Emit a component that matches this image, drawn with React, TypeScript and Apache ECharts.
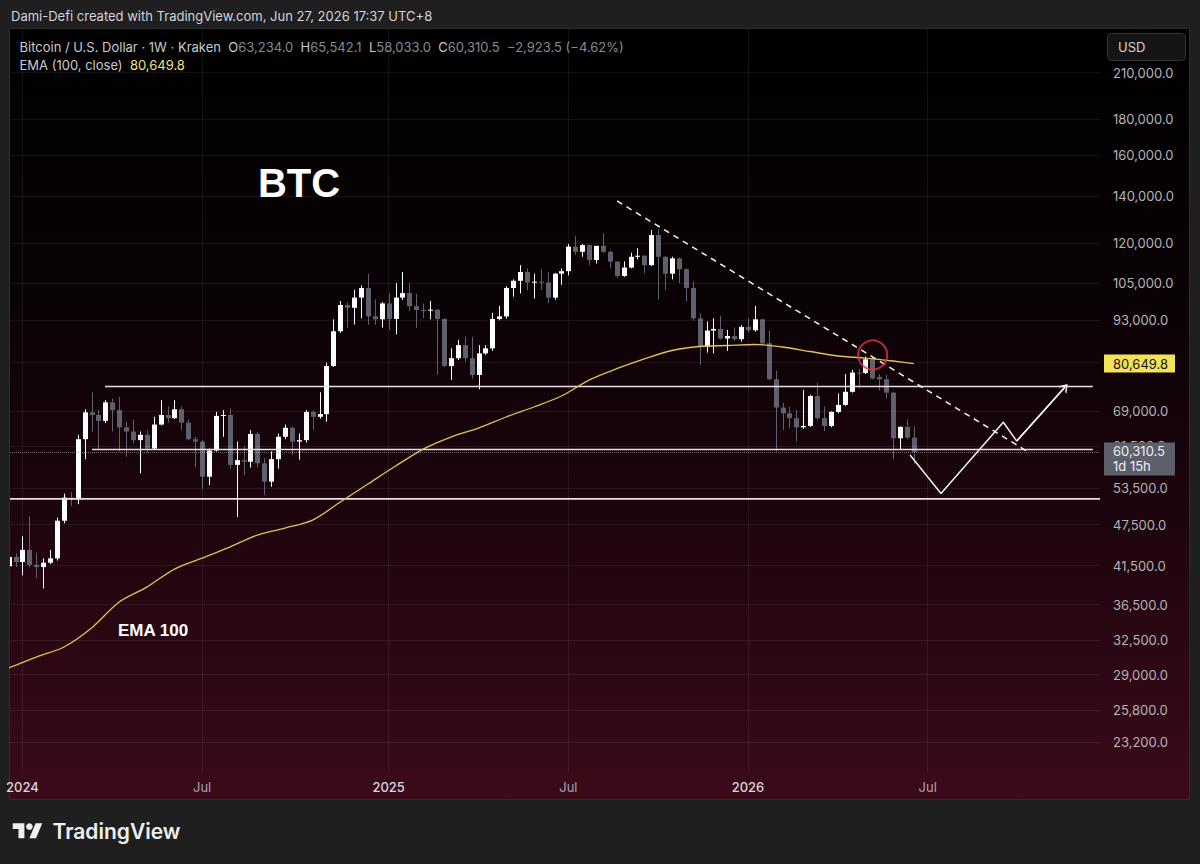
import React, { useEffect, useRef } from "react";
import * as echarts from "echarts";

// Weekly bars: week 0 = Mon 2023-12-18
const START = Date.UTC(2023, 11, 18);
const WEEK = 7 * 24 * 3600 * 1000;
const wt = (w: number) => START + w * WEEK;

const opens = [41400,42700,42000,43700,41600,41300,41900,42500,48100,51900,
51600,62900,68700,68100,66800,71000,69200,65400,64500,62700,
63800,61000,66000,68100,67400,69400,66400,62900,62400,55600,
60600,67900,68100,57800,58700,58400,64000,58100,54700,58900,
63400,65300,62400,62700,68800,67700,68300,80000,89700,97800,
96900,100200,103400,94200,93300,98300,93400,100200,101700,97400,
96200,96000,96300,93400,80000,82100,85700,82100,77700,83400,
84800,93400,94200,103400,105900,109000,105300,105600,105300,100200,
108400,109300,118500,116500,119100,113400,118800,116500,112800,107600,
110600,114600,115000,111500,123100,114600,108400,114000,110000,103400,
93600,85300,89900,90400,87600,88300,87400,91000,90000,93300,
86200,76600,69800,68500,67400,65400,65700,72500,67400,65700,
68800,70400,73500,78300,78200,81800,77200,76600,73300,63100,
65500,63234.0];

const highs = [43400,43200,45700,48800,43300,42500,43700,48600,52600,52800,
63800,69400,73400,69200,71500,71900,72300,66600,67100,64500,
64800,67700,71500,70100,71500,70000,67100,63400,62700,61000,
68800,69200,69600,62400,61400,64800,64400,59100,60400,64100,
66000,65600,64100,69200,69200,73400,80900,93300,99100,98700,
102800,104300,108400,99600,98700,101700,105100,109000,105100,101500,
98300,99100,96500,93600,84800,87200,88100,88100,85700,85700,
95300,97500,104000,106400,111500,110300,108400,110000,109000,108600,
110300,119500,122700,119500,119300,118800,123800,117000,113000,112900,
116100,117900,115200,125100,125400,114800,114600,114300,110300,105500,
95100,92600,93600,94300,90100,90800,91500,93600,97500,93500,
89900,78800,70900,70000,69200,73900,72800,75700,70000,68900,
73100,77900,79000,79200,82500,82500,77900,77700,73500,65600,
67100,65542.1];

const lows = [40600,41300,40200,41300,39800,38500,41700,42200,47700,50500,
50800,58900,64500,60700,66300,64500,60400,59400,62000,56200,
60200,60700,65800,66400,67200,64800,62700,57400,53500,54100,
60400,63400,57100,48700,55900,57300,57300,52300,53800,57100,
62900,59700,58800,62200,64800,67300,66600,79800,89200,90700,
91700,93600,91600,91600,90800,90000,88800,99400,95900,90700,
93600,93300,77700,79800,76400,81600,81200,76800,74100,83000,
84100,93000,93500,100500,101600,102700,99900,102700,98400,99500,
104500,107800,115300,114600,111500,112100,116100,110300,106800,107300,
110300,113700,108400,111200,99600,102800,106400,105100,99000,92900,
80300,83600,83400,87300,84100,86900,86700,89300,89600,85700,
76400,60400,64800,65200,62400,65100,65500,67100,64600,65400,
68500,70200,73300,74400,77900,76600,73900,71900,58900,60700,
62900,58033.0];

const closes = [42700,42000,43700,41600,41300,41900,42500,48100,51900,51600,
62900,68700,68100,66800,71000,69200,65400,64500,62700,63800,
61000,66000,68100,67400,69400,66400,62900,62400,55600,60600,
67900,68100,57800,58700,58400,64000,58100,54700,58900,63400,
65300,62400,62700,68800,67700,68300,80000,89700,97800,96900,
100200,103400,94200,93300,98300,93400,100200,101700,97400,96200,
96000,96300,93400,80000,82100,85700,82100,77700,83400,84800,
93400,94200,103400,105900,109000,105300,105600,105300,100200,108400,
109300,118500,116500,119100,113400,118800,116500,112800,107600,110600,
114600,115000,111500,123100,114600,108400,114000,110000,103400,93600,
85300,89900,90400,87600,88300,87400,91000,90000,93300,86200,
76600,69800,68500,67400,65400,65700,72500,67400,65700,68800,
70400,73500,78300,78200,81800,76800,76600,73300,63100,65500,
63234.0,60310.5];

// EMA(100) read at sampled weeks
const emaWeeks = [0,4,8,12,16,20,24,28,32,36,40,44,48,52,56,60,64,68,72,76,80,84,88,92,96,100,104,108,112,116,120,124,128,131];
const emaValues = [29630,30720,31750,33800,36810,38670,41030,42540,44110,45890,46960,48210,51150,54270,57580,60890,63340,65250,67660,69920,72490,76400,79300,81900,84200,85310,85590,85880,85170,83920,82690,82140,81340,80649.8];

const priceTicks = [210000,180000,160000,140000,120000,105000,93000,69000,61500,53500,47500,41500,36500,32500,29000,25800,23200];
const gridPrices = [210000,180000,160000,140000,120000,105000,93000,81000,69000,61500,53500,47500,41500,36500,32500,29000,25800,23200];
const timeTicks = ["2024-01-01","2024-07-01","2025-01-06","2025-07-07","2026-01-05","2026-07-06"];

// drawings (week index, price)
const levelPrices = [74800, 60800, 51700];
const levelStartWeeks = [13.95, 12.07, 0.2];
const levelEndWeeks = [156.9, 156.9, 157.94];
const trendWeeks = [88.05, 147.8];
const trendPrices = [137700, 60100];
const pathWeeks = [130.45, 134.93, 143.95, 145.89, 152.88];
const pathPrices = [59700, 52600, 66500, 62500, 74700];
const circleWeek = 125.05;
const circlePrice = 82960;

const X_MIN_WEEK = 0.2;
const X_MAX_WEEK = 157.94;
const Y_MIN = 21050;
const Y_MAX = 243200;

const fmt = (v: number) =>
  v.toLocaleString("en-US", { minimumFractionDigits: 1, maximumFractionDigits: 1 });

const FONT = "Inter, 'Noto Sans', sans-serif";

function buildOption(): any {
  const n = closes.length;
  const last = closes[n - 1];
  const prev = closes[n - 2];
  const chg = last - prev;
  const pct = (chg / prev) * 100;
  const minus = (s: string) => s.replace("-", "\u2212");
  const emaLast = emaValues[emaValues.length - 1];

  const candleData = opens.map((o, i) => [wt(i), o, closes[i], lows[i], highs[i]]);

  const levelSeries = levelPrices.map((p, k) => ({
    type: "line",
    name: "level" + k,
    data: [[wt(levelStartWeeks[k]), p], [wt(levelEndWeeks[k]), p]],
    symbol: "none",
    silent: true,
    z: 4,
    lineStyle: { color: "#e6e0e3", width: 1.7 },
  }));

  const legendText =
    "{t|Bitcoin / U.S. Dollar · 1W · Kraken}  " +
    "{t|O}{v|" + fmt(opens[n - 1]) + "}  " +
    "{t|H}{v|" + fmt(highs[n - 1]) + "}  " +
    "{t|L}{v|" + fmt(lows[n - 1]) + "}  " +
    "{t|C}{v|" + fmt(last) + "}  " +
    "{v|" + minus(fmt(chg)) + " (" + minus(pct.toFixed(2)) + "%)}";

  const gradient = {
    type: "linear", x: 0, y: 0, x2: 0, y2: 1,
    colorStops: [
      { offset: 0, color: "#000000" },
      { offset: 0.35, color: "#0a0205" },
      { offset: 0.7, color: "#22060f" },
      { offset: 1, color: "#3c0a1a" },
    ],
  };

  const logo = "#efefef";

  return {
    animation: false,
    backgroundColor: "#1f1f1f",
    grid: { left: 10, right: 100, top: 28, bottom: 92, containLabel: false, outerBoundsMode: "none" },
    xAxis: {
      type: "value",
      min: wt(X_MIN_WEEK),
      max: wt(X_MAX_WEEK),
      axisLine: { show: false },
      axisTick: { show: false },
      splitLine: { show: false },
      axisLabel: {
        customValues: timeTicks.map((d) => Date.parse(d)),
        margin: 8,
        hideOverlap: false,
        formatter: (v: number) => {
          const d = new Date(v);
          return d.getUTCMonth() === 0 ? "{y|" + d.getUTCFullYear() + "}" : "{m|Jul}";
        },
        rich: {
          y: { color: "#d6d8de", fontSize: 13, fontFamily: FONT, fontWeight: 500 },
          m: { color: "#a3a6af", fontSize: 13, fontFamily: FONT },
        },
      },
    },
    yAxis: {
      type: "log",
      position: "right",
      min: Y_MIN,
      max: Y_MAX,
      axisLine: { show: false },
      axisTick: { show: false },
      splitLine: { show: false },
      axisLabel: {
        customValues: priceTicks,
        formatter: (v: number) => fmt(v),
        align: "left",
        margin: 13,
        color: "#b6b4ba",
        fontSize: 13,
        fontFamily: FONT,
        hideOverlap: false,
      },
    },
    graphic: {
      elements: [
        {
          type: "rect", z: -10, silent: true,
          shape: { x: 9.5, y: 28.5, width: 1180, height: 771 },
          style: { fill: gradient, stroke: "#2e2c2e", lineWidth: 1 },
        },
        {
          type: "text", x: 11, y: 16, silent: true,
          style: { text: "Dami-Defi created with TradingView.com, Jun 27, 2026 17:37 UTC+8", fill: "#d1d4dc", fontSize: 13, fontFamily: FONT, verticalAlign: "middle" },
        },
        {
          type: "text", x: 19.5, y: 46.5, silent: true, z: 20,
          style: {
            text: legendText, verticalAlign: "middle", fontSize: 13, fontFamily: FONT,
            rich: {
              t: { fill: "#c8cad0", fontSize: 13, fontFamily: FONT },
              v: { fill: "#878a93", fontSize: 13, fontFamily: FONT },
            },
          },
        },
        {
          type: "text", x: 19.5, y: 64.5, silent: true, z: 20,
          style: {
            text: "{t|EMA (100, close)}  {y|" + fmt(emaLast) + "}", verticalAlign: "middle", fontSize: 13, fontFamily: FONT,
            rich: {
              t: { fill: "#c8cad0", fontSize: 13, fontFamily: FONT },
              y: { fill: "#f0e27a", fontSize: 13, fontFamily: FONT },
            },
          },
        },
        {
          type: "text", x: 299, y: 183, silent: true, z: 20,
          style: { text: "BTC", fill: "#ffffff", fontSize: 40, fontWeight: "bold", fontFamily: "'Liberation Sans', Arial, sans-serif", align: "center", verticalAlign: "middle" },
        },
        {
          type: "text", x: 153, y: 630, silent: true, z: 20,
          style: { text: "EMA 100", fill: "#ffffff", fontSize: 17, fontWeight: "bold", fontFamily: "'Liberation Sans', Arial, sans-serif", align: "center", verticalAlign: "middle" },
        },
        {
          type: "rect", silent: true, z: 20,
          shape: { x: 1107.5, y: 33.5, width: 78, height: 27, r: 4 },
          style: { fill: "#141414", stroke: "#343436", lineWidth: 1 },
        },
        {
          type: "text", x: 1118, y: 47, silent: true, z: 21,
          style: { text: "USD", fill: "#d1d4dc", fontSize: 13, fontFamily: FONT, verticalAlign: "middle" },
        },
        {
          type: "polygon", silent: true,
          shape: { points: [[12.7, 823.3], [24.4, 823.3], [24.4, 838.3], [18.5, 838.3], [18.5, 829.1], [12.7, 829.1]] },
          style: { fill: logo },
        },
        {
          type: "circle", silent: true,
          shape: { cx: 29.4, cy: 826.6, r: 3.33 },
          style: { fill: logo },
        },
        {
          type: "polygon", silent: true,
          shape: { points: [[29.4, 838.3], [36, 838.3], [42.3, 823.3], [35.6, 823.3]] },
          style: { fill: logo },
        },
        {
          type: "text", x: 52.5, y: 831, silent: true,
          style: { text: "TradingView", fill: logo, fontSize: 21, fontWeight: 600, fontFamily: FONT, verticalAlign: "middle" },
        },
      ],
    },
    series: [
      {
        type: "line",
        name: "grid",
        data: [[wt(X_MIN_WEEK), 100000]],
        symbol: "none",
        silent: true,
        z: 1,
        lineStyle: { opacity: 0 },
        markLine: {
          silent: true,
          symbol: ["none", "none"],
          label: { show: false },
          emphasis: { disabled: true },
          lineStyle: { color: "rgba(255,255,255,0.07)", width: 1, type: "solid" },
          data: [
            ...gridPrices.map((p) => ({ yAxis: p })),
            ...timeTicks.map((d) => ({ xAxis: Date.parse(d) })),
          ],
        },
      },
      {
        type: "custom",
        name: "BTCUSD",
        data: candleData,
        encode: { x: 0, y: [1, 2, 3, 4] },
        clip: true,
        z: 3,
        silent: true,
        renderItem: (params: any, api: any) => {
          const t = api.value(0);
          const o = api.value(1);
          const c = api.value(2);
          const l = api.value(3);
          const h = api.value(4);
          const po = api.coord([t, o]);
          const pc = api.coord([t, c]);
          const pl = api.coord([t, l]);
          const ph = api.coord([t, h]);
          const up = c >= o;
          const col = up ? "#ffffff" : "#5e616c";
          const x = Math.round(po[0]);
          const top = Math.min(po[1], pc[1]);
          const bh = Math.max(1, Math.abs(po[1] - pc[1]));
          return {
            type: "group",
            children: [
              { type: "line", shape: { x1: x + 0.5, y1: ph[1], x2: x + 0.5, y2: pl[1] }, style: { stroke: col, lineWidth: 1 } },
              { type: "rect", shape: { x: x - 2, y: top, width: 5, height: bh }, style: { fill: col } },
            ],
          };
        },
      },
      ...levelSeries,
      {
        type: "line",
        name: "EMA 100",
        data: emaWeeks.map((w, i) => [wt(w), emaValues[i]]),
        symbol: "none",
        smooth: 0.3,
        silent: true,
        z: 5,
        lineStyle: { color: "#e2c257", width: 1.3 },
      },
      {
        type: "line",
        name: "trend",
        data: trendWeeks.map((w, i) => [wt(w), trendPrices[i]]),
        symbol: "none",
        silent: true,
        z: 6,
        lineStyle: { color: "#f2f2f2", width: 1.5, type: [6, 5] },
      },
      {
        type: "line",
        name: "projection",
        data: pathWeeks.map((w, i) => [wt(w), pathPrices[i]]),
        symbol: "none",
        silent: true,
        z: 6,
        lineStyle: { color: "#f2f2f2", width: 1.5 },
        markLine: {
          silent: true,
          symbol: ["none", "path://M0,10 L5,0 L10,10 L8.4,10 L5,3.2 L1.6,10 Z"],
          symbolSize: [11, 8],
          label: { show: false },
          lineStyle: { color: "#f2f2f2", width: 1.5, type: "solid" },
          itemStyle: { color: "#f2f2f2" },
          data: [[
            { coord: [wt(pathWeeks[3]), pathPrices[3]] },
            { coord: [wt(pathWeeks[4]), pathPrices[4]] },
          ]],
        },
      },
      {
        type: "scatter",
        name: "circle",
        data: [[wt(circleWeek), circlePrice]],
        symbol: "circle",
        symbolSize: 29,
        silent: true,
        z: 7,
        itemStyle: { color: "rgba(0,0,0,0)", borderColor: "#e0323e", borderWidth: 2 },
      },
      {
        type: "line",
        name: "labels",
        data: [[wt(n - 1), last]],
        symbol: "none",
        silent: true,
        clip: false,
        z: 8,
        lineStyle: { opacity: 0 },
        markLine: {
          silent: true,
          symbol: ["none", "none"],
          data: [
            {
              yAxis: last,
              lineStyle: { type: "dotted", color: "rgba(175,175,185,0.6)", width: 1 },
              label: {
                show: true, position: "end", distance: 4, offset: [0, 7],
                formatter: fmt(last) + "\n1d 15h",
                backgroundColor: "#5d606b", color: "#eceef2",
                fontFamily: FONT, fontSize: 13, lineHeight: 15,
                width: 56, padding: [2, 6, 1, 9], align: "left",
              },
            },
            {
              yAxis: emaLast,
              lineStyle: { color: "rgba(0,0,0,0)", width: 0 },
              label: {
                show: true, position: "end", distance: 4,
                formatter: fmt(emaLast),
                backgroundColor: "#f4e35a", color: "#141414",
                fontFamily: FONT, fontSize: 13, lineHeight: 15,
                width: 56, padding: [2, 6, 1, 9], align: "left",
              },
            },
          ],
        },
      },
    ],
  };
}

export default function App() {
  const ref = useRef<HTMLDivElement>(null);
  useEffect(() => {
    if (!ref.current) return;
    const chart = echarts.init(ref.current, null, { renderer: "svg" });
    chart.setOption(buildOption());
    return () => chart.dispose();
  }, []);
  return (
    <div
      ref={ref}
      style={{ position: "fixed", left: 0, top: 0, width: 1200, height: 864 }}
    />
  );
}
